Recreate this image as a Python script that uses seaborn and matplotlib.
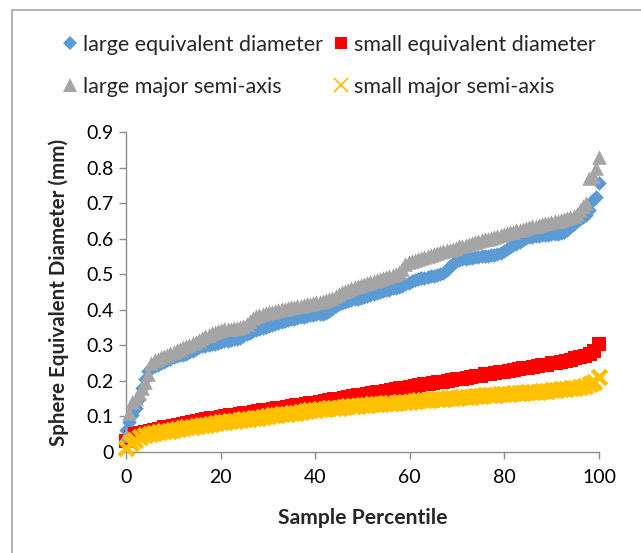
import numpy as np
import pandas as pd
import matplotlib
matplotlib.use("Agg")
import matplotlib.pyplot as plt
from matplotlib.lines import Line2D
import seaborn as sns

# ---------------- data ----------------
large_equiv_diam = [
    0.062, 0.085, 0.105, 0.125, 0.150, 0.180, 0.205, 0.228, 0.236, 0.241,
    0.246, 0.250, 0.254, 0.258, 0.262, 0.266, 0.269, 0.272, 0.274, 0.277,
    0.281, 0.285, 0.290, 0.294, 0.297, 0.299, 0.301, 0.303, 0.305, 0.307,
    0.309, 0.311, 0.313, 0.315, 0.317, 0.319, 0.322, 0.326, 0.331, 0.336,
    0.340, 0.343, 0.346, 0.349, 0.352, 0.355, 0.358, 0.361, 0.364, 0.366,
    0.368, 0.371, 0.373, 0.375, 0.377, 0.379, 0.381, 0.383, 0.384, 0.386,
    0.387, 0.388, 0.389, 0.391, 0.396, 0.403, 0.410, 0.415, 0.418, 0.421,
    0.424, 0.427, 0.429, 0.431, 0.433, 0.436, 0.439, 0.442, 0.445, 0.448,
    0.450, 0.452, 0.455, 0.457, 0.460, 0.462, 0.465, 0.468, 0.472, 0.476,
    0.480, 0.483, 0.486, 0.488, 0.490, 0.492, 0.494, 0.496, 0.498, 0.500,
    0.504, 0.512, 0.522, 0.530, 0.536, 0.540, 0.542, 0.544, 0.546, 0.547,
    0.548, 0.549, 0.550, 0.551, 0.552, 0.553, 0.554, 0.556, 0.560, 0.566,
    0.572, 0.577, 0.581, 0.585, 0.590, 0.596, 0.601, 0.604, 0.606, 0.607,
    0.608, 0.609, 0.610, 0.611, 0.612, 0.613, 0.614, 0.615, 0.618, 0.624,
    0.632, 0.642, 0.650, 0.655, 0.660, 0.666, 0.680, 0.708, 0.718, 0.756,
]

large_major_semi_axis = [
    0.048, 0.110, 0.140, 0.152, 0.165, 0.180, 0.198, 0.218, 0.250, 0.258,
    0.262, 0.266, 0.270, 0.274, 0.278, 0.282, 0.286, 0.290, 0.294, 0.298,
    0.302, 0.306, 0.310, 0.315, 0.320, 0.325, 0.330, 0.335, 0.338, 0.341,
    0.343, 0.345, 0.346, 0.347, 0.348, 0.350, 0.352, 0.355, 0.360, 0.368,
    0.376, 0.382, 0.386, 0.389, 0.391, 0.393, 0.395, 0.397, 0.399, 0.401,
    0.403, 0.405, 0.407, 0.409, 0.410, 0.412, 0.414, 0.415, 0.417, 0.419,
    0.421, 0.423, 0.425, 0.427, 0.429, 0.432, 0.438, 0.445, 0.450, 0.454,
    0.457, 0.460, 0.463, 0.466, 0.469, 0.472, 0.475, 0.478, 0.481, 0.484,
    0.487, 0.490, 0.493, 0.496, 0.499, 0.502, 0.505, 0.515, 0.528, 0.534,
    0.538, 0.541, 0.544, 0.547, 0.549, 0.552, 0.554, 0.557, 0.559, 0.562,
    0.564, 0.567, 0.569, 0.572, 0.575, 0.578, 0.580, 0.583, 0.585, 0.588,
    0.590, 0.593, 0.595, 0.598, 0.600, 0.603, 0.605, 0.608, 0.610, 0.613,
    0.615, 0.618, 0.620, 0.623, 0.625, 0.628, 0.630, 0.633, 0.635, 0.637,
    0.639, 0.641, 0.643, 0.645, 0.647, 0.649, 0.651, 0.653, 0.655, 0.657,
    0.660, 0.664, 0.670, 0.680, 0.692, 0.700, 0.770, 0.775, 0.800, 0.830,
]

small_equiv_diam = [
    0.030, 0.042, 0.050, 0.054, 0.057, 0.060, 0.063, 0.066, 0.069, 0.071,
    0.074, 0.077, 0.079, 0.082, 0.084, 0.087, 0.089, 0.092, 0.095, 0.097,
    0.099, 0.101, 0.103, 0.105, 0.107, 0.109, 0.111, 0.113, 0.115, 0.117,
    0.119, 0.121, 0.123, 0.125, 0.127, 0.129, 0.131, 0.133, 0.135, 0.137,
    0.139, 0.141, 0.143, 0.146, 0.148, 0.150, 0.152, 0.154, 0.157, 0.159,
    0.161, 0.163, 0.165, 0.168, 0.170, 0.172, 0.174, 0.177, 0.179, 0.181,
    0.183, 0.186, 0.188, 0.190, 0.192, 0.194, 0.196, 0.198, 0.200, 0.202,
    0.204, 0.206, 0.209, 0.211, 0.213, 0.215, 0.218, 0.220, 0.222, 0.224,
    0.226, 0.228, 0.230, 0.233, 0.235, 0.237, 0.239, 0.242, 0.244, 0.246,
    0.249, 0.251, 0.254, 0.257, 0.260, 0.263, 0.267, 0.271, 0.276, 0.284,
    0.305,
]

small_major_semi_axis = [
    0.012, 0.025, 0.035, 0.042, 0.047, 0.050, 0.053, 0.056, 0.058, 0.060,
    0.063, 0.065, 0.067, 0.069, 0.071, 0.073, 0.075, 0.077, 0.079, 0.081,
    0.083, 0.085, 0.087, 0.088, 0.090, 0.092, 0.093, 0.095, 0.097, 0.098,
    0.101, 0.103, 0.104, 0.106, 0.108, 0.110, 0.111, 0.113, 0.115, 0.117,
    0.119, 0.120, 0.121, 0.123, 0.124, 0.125, 0.126, 0.128, 0.129, 0.130,
    0.131, 0.133, 0.134, 0.135, 0.136, 0.137, 0.138, 0.139, 0.140, 0.141,
    0.142, 0.144, 0.145, 0.146, 0.147, 0.148, 0.149, 0.150, 0.151, 0.152,
    0.153, 0.154, 0.155, 0.156, 0.157, 0.158, 0.159, 0.160, 0.161, 0.162,
    0.163, 0.164, 0.165, 0.166, 0.167, 0.168, 0.169, 0.170, 0.171, 0.172,
    0.174, 0.175, 0.176, 0.178, 0.179, 0.181, 0.183, 0.186, 0.190, 0.196,
    0.210,
]

series_labels = ["large equivalent diameter", "small equivalent diameter",
                 "large major semi-axis", "small major semi-axis"]
x_ticks = [0, 20, 40, 60, 80, 100]
y_ticks = [0, 0.1, 0.2, 0.3, 0.4, 0.5, 0.6, 0.7, 0.8, 0.9]
x_label = "Sample Percentile"
y_label = "Sphere Equivalent Diameter (mm)"


def percentile_rank(values):
    n = len(values)
    return np.arange(n) * 100.0 / (n - 1)


# ---------------- style ----------------
sns.set_theme(style="white")
plt.rcParams["font.family"] = ["Lato", "DejaVu Sans"]

colors = ["#5B9BD5", "#FF0000", "#A5A5A5", "#FFC000"]
markers = ["D", "s", "^", "x"]
sizes = [55, 90, 110, 110]

fig = plt.figure(figsize=(6.41, 5.53), dpi=100)
ax = fig.add_axes([126 / 641, 1 - 452 / 553, (599 - 126) / 641, (452 - 132) / 553])

all_series = [large_equiv_diam, small_equiv_diam, large_major_semi_axis, small_major_semi_axis]
for vals, lab, c, m, s in zip(all_series, series_labels, colors, markers, sizes):
    df = pd.DataFrame({"pct": percentile_rank(vals), "val": vals})
    kw = dict(data=df, x="pct", y="val", ax=ax, color=c, marker=m, s=s,
              legend=False, clip_on=False, zorder=3)
    if m == "x":
        kw.update(linewidth=3.2)
    else:
        kw.update(linewidth=0, edgecolor=c)
    sns.scatterplot(**kw)

ax.set_xlim(0, 100)
ax.set_ylim(0, 0.9)
ax.set_xticks(x_ticks)
ax.set_yticks(y_ticks)
ax.set_xticklabels([str(t) for t in x_ticks])
ax.set_yticklabels(["0" if t == 0 else f"{t:.1f}" for t in y_ticks])

for sp in ["top", "right"]:
    ax.spines[sp].set_visible(False)
for sp in ["left", "bottom"]:
    ax.spines[sp].set_color("#8c8c8c")
    ax.spines[sp].set_linewidth(1.0)
ax.tick_params(axis="both", direction="out", length=5, width=1.0, color="#8c8c8c",
               labelsize=14, labelcolor="black", pad=4)
ax.tick_params(axis="x", bottom=True, pad=7)
ax.tick_params(axis="y", left=True)
ax.grid(False)

ax.set_xlabel(x_label, fontsize=15.2, fontweight="bold", labelpad=16)
ax.set_ylabel(y_label, fontsize=14.8, fontweight="bold", labelpad=12)

# legend
handles = []
leg_sizes = [7.5, 8.5, 9.5, 9.5]
for lab, c, m, ms in zip(series_labels, colors, markers, leg_sizes):
    if m == "x":
        h = Line2D([], [], linestyle="none", marker=m, color=c, markersize=ms, markeredgewidth=1.3, label=lab)
    else:
        h = Line2D([], [], linestyle="none", marker=m, color=c, markersize=ms, markeredgewidth=0, label=lab)
    handles.append(h)
order = [0, 2, 1, 3]
fig.legend([handles[i] for i in order], [series_labels[i] for i in order],
           ncol=2, loc="upper left", bbox_to_anchor=(60 / 641, 1 - 35 / 553),
           frameon=False, fontsize=15.5, handletextpad=0.15, columnspacing=0.4,
           labelspacing=1.0, handlelength=0.9, borderaxespad=0, borderpad=0)

# outer chart border
fig.add_artist(Line2D([12 / 641, 12 / 641], [0, 1 - 10 / 553], transform=fig.transFigure,
                      color="#a6a6a6", linewidth=1.2))
fig.add_artist(Line2D([12 / 641, 1], [1 - 10 / 553, 1 - 10 / 553], transform=fig.transFigure,
                      color="#a6a6a6", linewidth=1.2))

fig.savefig("out.png", dpi=100)
